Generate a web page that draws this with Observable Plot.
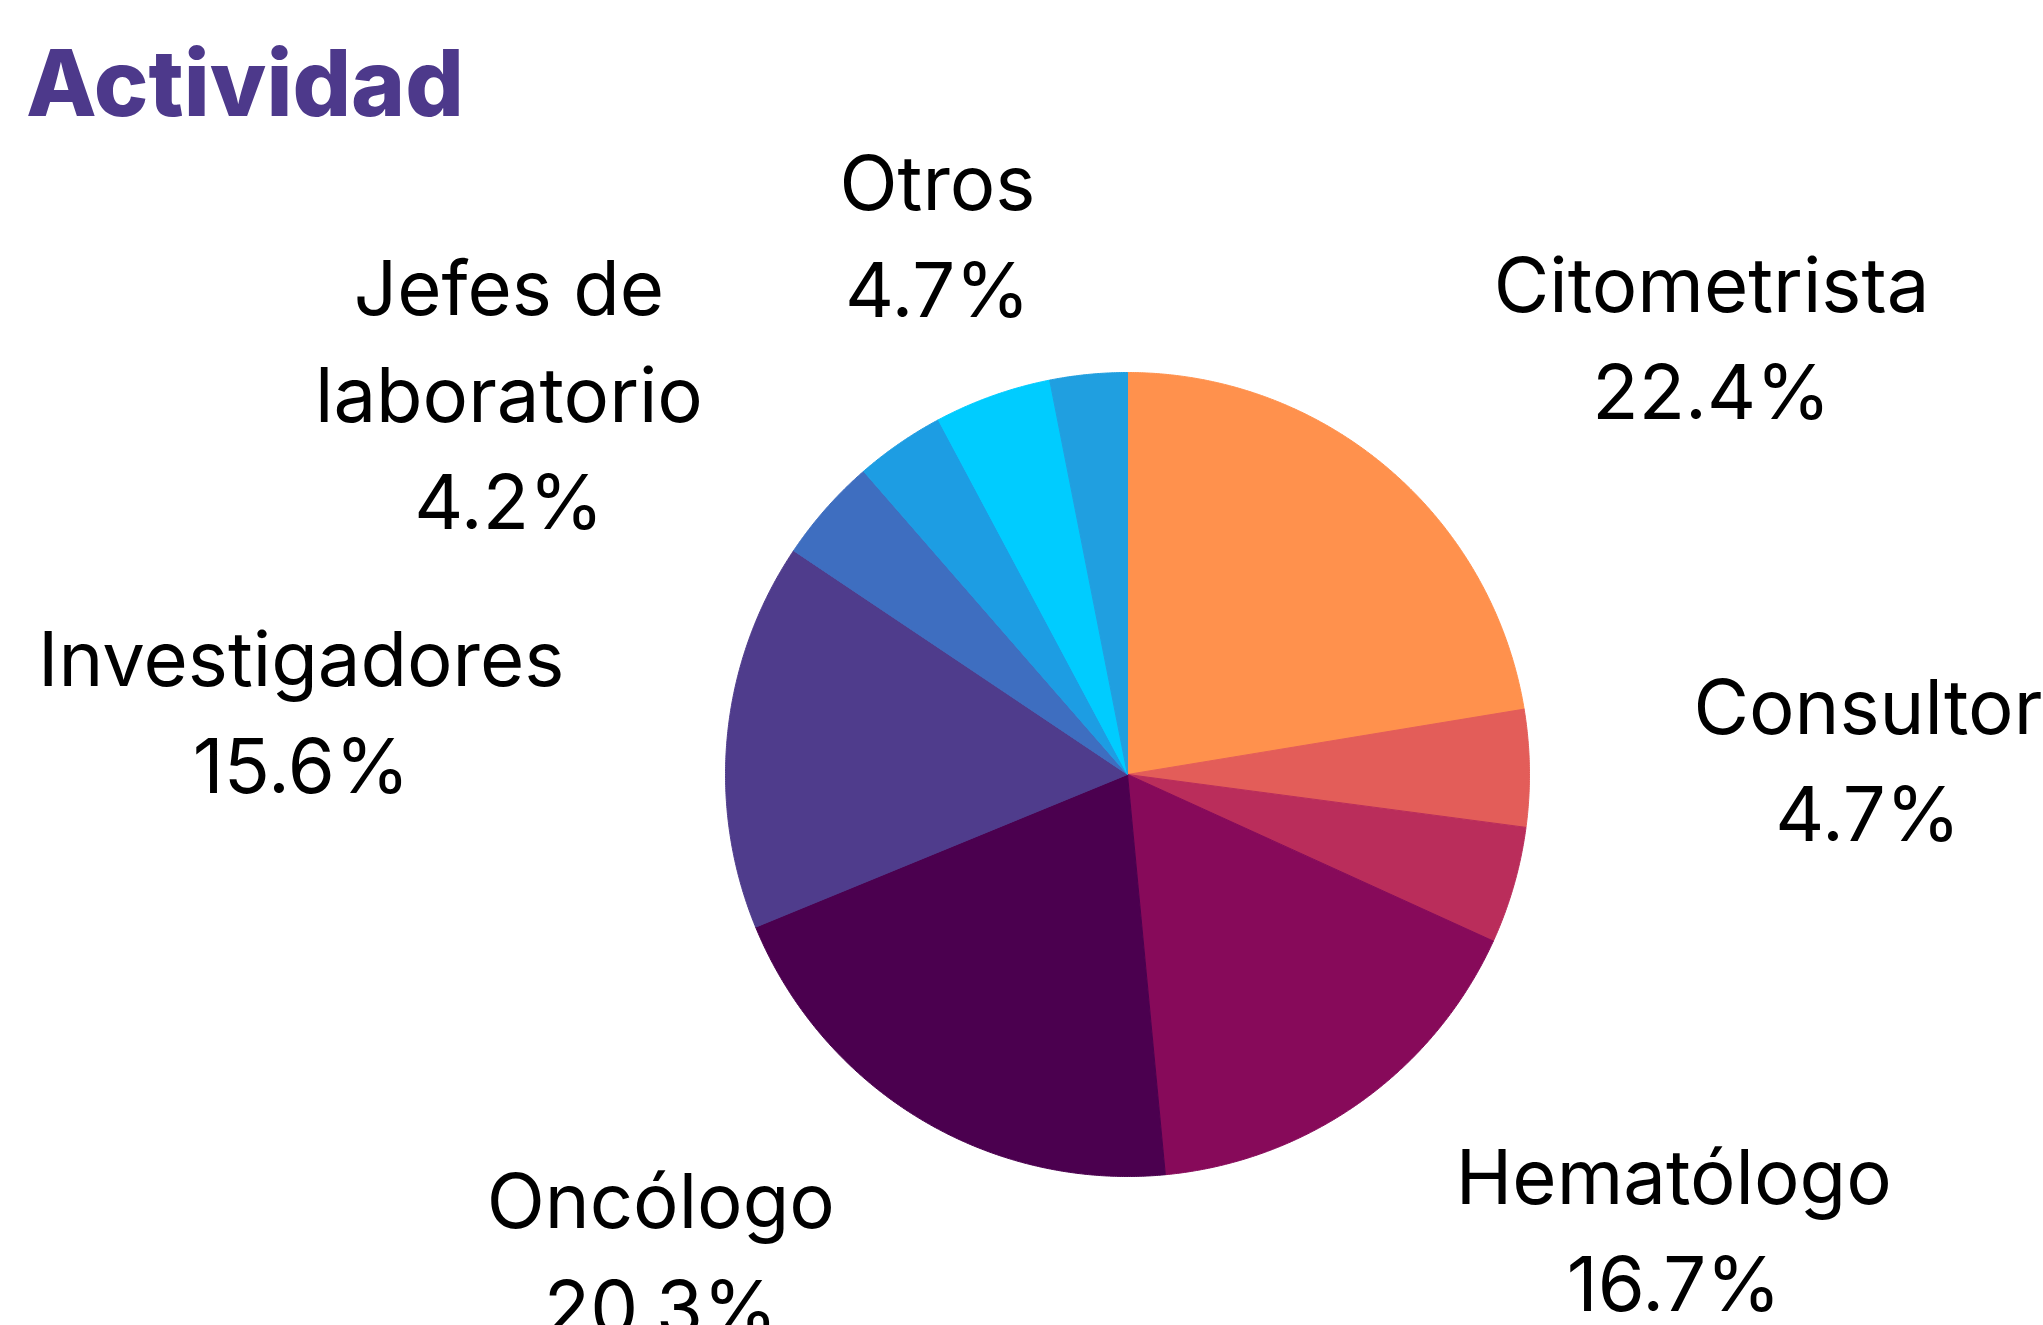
<!DOCTYPE html>
<html><head><meta charset="utf-8">
<script src="https://cdn.jsdelivr.net/npm/d3@7"></script>
<script src="https://cdn.jsdelivr.net/npm/@observablehq/plot@0.6"></script>
<style>
html,body{margin:0;padding:0;background:#fff;overflow:hidden;width:2043px;height:1325px;}
#title{position:absolute;left:26px;top:37px;margin:0;font-family:Inter,sans-serif;font-weight:800;font-size:92px;line-height:92px;color:#4d398b;}
#chart{position:absolute;left:0;top:150px;}
</style></head><body>
<h1 id="title">Actividad</h1>
<div id="chart"></div>
<script>
// Data (clockwise from 12 o'clock)
const categories = ["Citometrista","Consultor","Sin etiqueta 1","Hematólogo","Oncólogo","Investigadores","Jefes de laboratorio","Sin etiqueta 2","Otros","Sin etiqueta 3"];
const shares = [22.4, 4.7, 4.7, 16.7, 20.3, 15.6, 4.2, 3.6, 4.7, 3.1];
const showLabel = [true, true, false, true, true, true, true, false, true, false];
const colors = ["#ff914d","#e35d59","#ba2d5b","#870a5a","#4b004f","#4f3c8c","#3e6ec0","#1d9de3","#00ccff","#209fe0"];

// Layout
const W = 2043, H = 1175, cx = 1127, cy = 624, R = 402;
const labelR = 566 / R, fontSize = 76, lineH = 107;

const total = d3.sum(shares);
const pts = [];
const labels = [];
const ctx = document.createElement("canvas").getContext("2d");
ctx.font = `400 ${fontSize}px Inter`;
function wrap(s, maxW) {
  const words = s.split(" "); const lines = []; let cur = "";
  for (const w of words) {
    const t = cur ? cur + " " + w : w;
    if (cur && ctx.measureText(t).width > maxW) { lines.push(cur); cur = w; } else cur = t;
  }
  lines.push(cur); return lines;
}
let acc = 0;
categories.forEach((name, i) => {
  const a0 = acc / total * 2 * Math.PI;
  acc += shares[i];
  const a1 = acc / total * 2 * Math.PI;
  pts.push({name, x: 0, y: 0});
  const n = Math.max(2, Math.ceil((a1 - a0) / (Math.PI / 720)));
  for (let k = 0; k <= n; k++) {
    const t = a0 + (a1 - a0) * k / n;
    pts.push({name, x: Math.sin(t), y: Math.cos(t)});
  }
  pts.push({name, x: 0, y: 0});
  if (showLabel[i]) {
    const mid = (a0 + a1) / 2;
    const lines = [...wrap(name, 480), shares[i].toFixed(1) + "%"];
    const w = d3.max(lines, l => ctx.measureText(l).width);
    const s = Math.sin(mid);
    const off = Math.abs(s) >= 0.4 ? Math.sign(s) * w / 2 / R : 0;
    labels.push({name, text: lines.join("\n"), x: labelR * s + off, y: labelR * Math.cos(mid)});
  }
});

const plot = Plot.plot({
  width: W, height: H, margin: 0,
  x: {domain: [-cx / R, (W - cx) / R], axis: null},
  y: {domain: [-(H - cy) / R, cy / R], axis: null},
  color: {domain: categories, range: colors},
  style: {background: "transparent", overflow: "visible"},
  marks: [
    Plot.line(pts, {x: "x", y: "y", z: "name", fill: "name", stroke: "name", strokeWidth: 1, curve: "linear"}),
    Plot.text(labels, {x: "x", y: "y", text: "text", fontSize, fontFamily: "Inter", fontWeight: 400, fill: "#000",
      lineHeight: lineH / fontSize, lineAnchor: "middle", textAnchor: "middle", dy: -12})
  ]
});
document.getElementById("chart").appendChild(plot);
</script>
</body></html>
